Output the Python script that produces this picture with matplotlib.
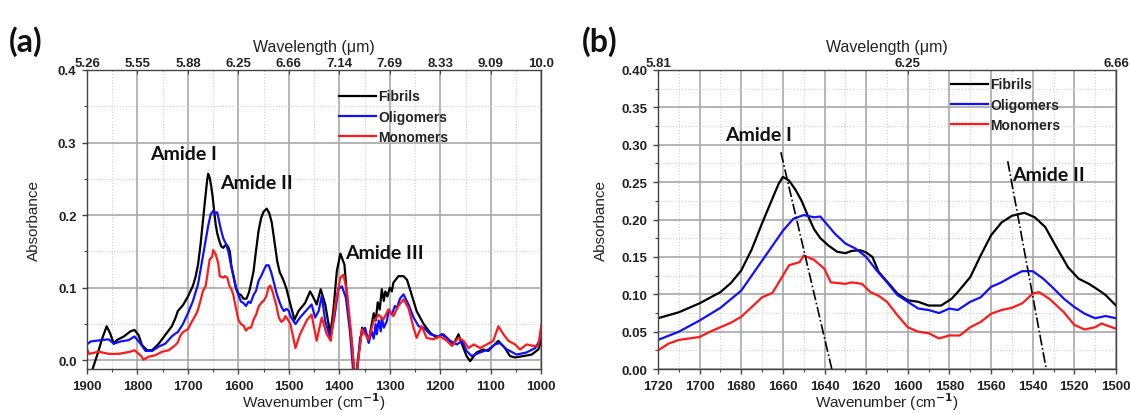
import numpy as np
import matplotlib
matplotlib.use("Agg")
import matplotlib.pyplot as plt
from matplotlib.ticker import MultipleLocator, FormatStrFormatter

plt.rcParams['font.family'] = ['Liberation Sans', 'DejaVu Sans']
plt.rcParams['font.weight'] = 'bold'

# ---- data ----
# panel (b) region, 1720-1500 cm-1 (also used inside panel (a))
wn_fib_b = [1720, 1710, 1700, 1690, 1685, 1680, 1675, 1670, 1667, 1664, 1662, 1660, 1657, 1654,
            1651, 1648, 1645, 1642, 1638, 1634, 1630, 1627, 1623, 1620, 1617, 1614, 1609, 1605,
            1600, 1595, 1590, 1584, 1579, 1576, 1570, 1565, 1560, 1555, 1550, 1544, 1539, 1534,
            1529, 1523, 1518, 1513, 1508, 1505, 1500]
abs_fib_b = [0.068, 0.076, 0.088, 0.103, 0.115, 0.132, 0.160, 0.195, 0.215, 0.235, 0.248, 0.257,
             0.252, 0.240, 0.225, 0.205, 0.187, 0.175, 0.165, 0.157, 0.155, 0.158, 0.159, 0.156,
             0.150, 0.130, 0.114, 0.101, 0.092, 0.090, 0.085, 0.085, 0.094, 0.103, 0.123, 0.152,
             0.179, 0.196, 0.205, 0.209, 0.203, 0.190, 0.165, 0.136, 0.121, 0.114, 0.105, 0.099,
             0.085]

wn_oli_b = [1720, 1710, 1700, 1690, 1680, 1670, 1660, 1655, 1650, 1645, 1642, 1635, 1630, 1625,
            1620, 1615, 1610, 1605, 1600, 1595, 1590, 1585, 1580, 1576, 1570, 1565, 1560, 1555,
            1550, 1545, 1540, 1535, 1530, 1525, 1520, 1515, 1510, 1505, 1500]
abs_oli_b = [0.039, 0.050, 0.065, 0.082, 0.105, 0.145, 0.185, 0.201, 0.206, 0.203, 0.204, 0.181,
             0.168, 0.161, 0.150, 0.132, 0.116, 0.099, 0.090, 0.081, 0.079, 0.075, 0.081, 0.079,
             0.090, 0.096, 0.110, 0.116, 0.124, 0.131, 0.131, 0.121, 0.108, 0.094, 0.083, 0.074,
             0.068, 0.071, 0.068]

wn_mon_b = [1720, 1715, 1710, 1705, 1700, 1695, 1690, 1685, 1680, 1675, 1670, 1665, 1660, 1657,
            1652, 1650, 1645, 1640, 1637, 1630, 1627, 1622, 1618, 1614, 1610, 1605, 1600, 1595,
            1590, 1585, 1580, 1575, 1570, 1565, 1560, 1555, 1550, 1545, 1540, 1537, 1532, 1525,
            1520, 1515, 1510, 1507, 1500]
abs_mon_b = [0.025, 0.034, 0.039, 0.041, 0.043, 0.050, 0.056, 0.062, 0.070, 0.083, 0.096, 0.102,
             0.125, 0.139, 0.143, 0.152, 0.146, 0.134, 0.116, 0.114, 0.116, 0.114, 0.103, 0.098,
             0.090, 0.072, 0.056, 0.050, 0.048, 0.041, 0.045, 0.045, 0.056, 0.063, 0.074, 0.079,
             0.082, 0.088, 0.101, 0.103, 0.094, 0.076, 0.059, 0.053, 0.056, 0.061, 0.054]

# panel (a) outer regions: 1900-1725 and 1497-1000 cm-1
wn_fib_hi = [1900, 1890, 1880, 1870, 1861, 1854, 1847, 1841, 1827, 1814, 1806, 1798, 1791, 1781,
             1771, 1758, 1745, 1732, 1725]
abs_fib_hi = [-0.050, -0.014, 0.007, 0.030, 0.047, 0.037, 0.023, 0.028, 0.033, 0.040, 0.042,
              0.035, 0.021, 0.014, 0.014, 0.023, 0.035, 0.047, 0.058]
wn_fib_lo = [1497, 1489, 1481, 1468, 1458, 1451, 1445, 1437, 1428, 1418, 1412, 1405, 1398, 1390,
             1382, 1375, 1369, 1362, 1355, 1349, 1342, 1336, 1332, 1328, 1324, 1320, 1316, 1312,
             1309, 1305, 1300, 1296, 1293, 1283, 1273, 1266, 1257, 1247, 1233, 1220, 1207, 1197,
             1187, 1174, 1164, 1157, 1148, 1141, 1128, 1115, 1105, 1095, 1085, 1072, 1062, 1052,
             1036, 1019, 1006, 1000]
abs_fib_lo = [0.077, 0.056, 0.068, 0.079, 0.095, 0.086, 0.077, 0.098, 0.077, 0.036, 0.068, 0.123,
              0.147, 0.132, 0.063, 0.022, -0.030, 0.008, 0.045, 0.040, 0.027, 0.050, 0.065, 0.055,
              0.080, 0.070, 0.098, 0.082, 0.095, 0.088, 0.100, 0.095, 0.107, 0.116, 0.116, 0.111,
              0.091, 0.068, 0.050, 0.038, 0.031, 0.036, 0.031, 0.022, 0.036, 0.022, 0.006, -0.001,
              0.011, 0.015, 0.013, 0.020, 0.027, 0.017, 0.006, 0.004, 0.006, 0.008, 0.015, 0.027]

wn_oli_hi = [1900, 1893, 1883, 1870, 1857, 1847, 1834, 1817, 1806, 1794, 1784, 1771, 1758, 1745,
             1732, 1725]
abs_oli_hi = [0.022, 0.026, 0.027, 0.028, 0.029, 0.023, 0.026, 0.028, 0.033, 0.023, 0.013, 0.013,
              0.019, 0.023, 0.033, 0.037]
wn_oli_lo = [1497, 1487, 1478, 1464, 1455, 1448, 1441, 1435, 1428, 1418, 1410, 1402, 1395, 1387,
             1379, 1371, 1365, 1359, 1349, 1342, 1336, 1332, 1328, 1326, 1322, 1318, 1316, 1312,
             1306, 1302, 1296, 1290, 1286, 1280, 1273, 1263, 1253, 1243, 1233, 1220, 1204, 1194,
             1181, 1167, 1157, 1148, 1138, 1121, 1105, 1092, 1082, 1068, 1062, 1049, 1029, 1012,
             1000]
abs_oli_lo = [0.061, 0.050, 0.059, 0.070, 0.077, 0.059, 0.068, 0.089, 0.054, 0.031, 0.059, 0.098,
              0.102, 0.086, 0.040, -0.030, -0.020, 0.031, 0.045, 0.024, 0.040, 0.030, 0.050, 0.036,
              0.055, 0.040, 0.059, 0.045, 0.054, 0.070, 0.063, 0.075, 0.072, 0.085, 0.091, 0.077,
              0.059, 0.047, 0.045, 0.036, 0.033, 0.036, 0.027, 0.022, 0.027, 0.013, 0.006, 0.011,
              0.015, 0.022, 0.024, 0.015, 0.013, 0.008, 0.011, 0.017, 0.031]

wn_mon_hi = [1900, 1896, 1877, 1857, 1837, 1814, 1806, 1794, 1788, 1778, 1765, 1751, 1738, 1725]
abs_mon_hi = [0.016, 0.009, 0.012, 0.009, 0.009, 0.012, 0.014, 0.007, 0.001, 0.005, 0.007, 0.012,
              0.014, 0.021]
wn_mon_lo = [1497, 1487, 1478, 1464, 1455, 1445, 1435, 1425, 1417, 1408, 1398, 1392, 1385, 1377,
             1369, 1362, 1355, 1349, 1342, 1332, 1322, 1313, 1303, 1293, 1283, 1273, 1263, 1253,
             1247, 1237, 1227, 1214, 1200, 1187, 1177, 1164, 1154, 1144, 1134, 1121, 1108, 1095,
             1085, 1075, 1065, 1052, 1042, 1029, 1016, 1006, 1000]
abs_mon_lo = [0.050, 0.017, 0.036, 0.056, 0.063, 0.027, 0.059, 0.036, 0.027, 0.077, 0.114, 0.118,
              0.095, 0.040, -0.030, 0.004, 0.043, 0.036, 0.029, 0.054, 0.063, 0.056, 0.070, 0.061,
              0.075, 0.084, 0.072, 0.045, 0.031, 0.047, 0.031, 0.029, 0.033, 0.027, 0.020, 0.031,
              0.027, 0.017, 0.022, 0.017, 0.022, 0.027, 0.047, 0.036, 0.027, 0.022, 0.015, 0.022,
              0.020, 0.020, 0.048]

series_names = ['Fibrils', 'Oligomers', 'Monomers']
series_colors = ['black', '#1010ff', '#ff1a1a']

# top axis (wavelength) tick labels
top_ticks_a = [1900, 1800, 1700, 1600, 1500, 1400, 1300, 1200, 1100, 1000]
top_labels_a = ['5.26', '5.55', '5.88', '6.25', '6.66', '7.14', '7.69', '8.33', '9.09', '10.0']
top_ticks_b = [1720, 1600, 1500]
top_labels_b = ['5.81', '6.25', '6.66']

# peak shift guide lines in (b): (wn, abs) end points
amide1_line = ([1661, 1636.5], [0.29, 0.0])
amide2_line = ([1552, 1533.5], [0.278, 0.0])

fig = plt.figure(figsize=(11.3, 4.14), dpi=100)
axA = fig.add_axes([0.077, 0.106, 0.402, 0.7226])
axB = fig.add_axes([0.5823, 0.106, 0.4053, 0.7226])

tick_col = '#222222'
spine_col = '#444444'


def style_axis(ax, ylabpad):
    ax.grid(which='major', color='#a8a8a8', lw=1.2, ls='-')
    ax.grid(which='minor', color='#cfcfcf', lw=0.8, ls=':')
    ax.set_axisbelow(True)
    for s in ax.spines.values():
        s.set_color(spine_col)
        s.set_linewidth(1.0)
    ax.tick_params(which='major', direction='out', length=3.5, width=1, color=spine_col,
                   labelsize=9.5, labelcolor=tick_col, pad=4)
    ax.tick_params(which='minor', direction='out', length=2.2, width=0.8, color=spine_col)
    ax.set_xlabel('Wavenumber (cm$^{\\mathbf{-1}}$)', fontsize=11, color=tick_col, labelpad=-1)
    ax.set_ylabel('Absorbance', fontsize=11, color=tick_col, labelpad=ylabpad)


# ---- panel (a) ----
full_a = [
    (wn_fib_hi + wn_fib_b + wn_fib_lo, abs_fib_hi + abs_fib_b + abs_fib_lo),
    (wn_oli_hi + wn_oli_b + wn_oli_lo, abs_oli_hi + abs_oli_b + abs_oli_lo),
    (wn_mon_hi + wn_mon_b + wn_mon_lo, abs_mon_hi + abs_mon_b + abs_mon_lo),
]
for (x, y), name, c in zip(full_a, series_names, series_colors):
    axA.plot(x, y, color=c, lw=1.6, label=name)
axA.set_xlim(1900, 1000)
axA.set_ylim(-0.012, 0.4)
axA.xaxis.set_major_locator(MultipleLocator(100))
axA.xaxis.set_minor_locator(MultipleLocator(50))
axA.yaxis.set_major_locator(MultipleLocator(0.1))
axA.yaxis.set_minor_locator(MultipleLocator(0.05))
axA.yaxis.set_major_formatter(FormatStrFormatter('%.1f'))
style_axis(axA, 12)
axA.legend(loc='upper left', bbox_to_anchor=(0.554, 0.935), frameon=False, fontsize=10,
           handlelength=2.7, handletextpad=0.15, borderaxespad=0, borderpad=0,
           labelspacing=0.45, labelcolor=tick_col)

lab_font = dict(family=['Lato', 'DejaVu Sans'], weight='bold', fontsize=14, color='#111111')
axA.text(1775, 0.285, 'Amide I', va='center', **lab_font)
axA.text(1636, 0.245, 'Amide II', va='center', **lab_font)
axA.text(1388, 0.149, 'Amide III', va='center', **lab_font)

topA = axA.twiny()
topA.set_xlim(axA.get_xlim())
topA.set_xticks(top_ticks_a)
topA.set_xticklabels(top_labels_a)
topA.tick_params(direction='in', length=3, labelsize=9.5, labelcolor=tick_col, color=spine_col, pad=1)
topA.set_xlabel('Wavelength (\u03bcm)', fontsize=11.5, color=tick_col, labelpad=4)
for s in topA.spines.values():
    s.set_visible(False)

# ---- panel (b) ----
for x, y, name, c in zip([wn_fib_b, wn_oli_b, wn_mon_b], [abs_fib_b, abs_oli_b, abs_mon_b],
                         series_names, series_colors):
    axB.plot(x, y, color=c, lw=1.6, label=name)
axB.plot(amide1_line[0], amide1_line[1], color='black', lw=1.2, ls='-.')
axB.plot(amide2_line[0], amide2_line[1], color='black', lw=1.2, ls='-.')
axB.set_xlim(1720, 1500)
axB.set_ylim(0, 0.4)
axB.xaxis.set_major_locator(MultipleLocator(20))
axB.xaxis.set_minor_locator(MultipleLocator(10))
axB.yaxis.set_major_locator(MultipleLocator(0.05))
axB.yaxis.set_minor_locator(MultipleLocator(0.025))
axB.yaxis.set_major_formatter(FormatStrFormatter('%.2f'))
style_axis(axB, 10)
axB.legend(loc='upper left', bbox_to_anchor=(0.639, 0.975), frameon=False, fontsize=10,
           handlelength=2.7, handletextpad=0.15, borderaxespad=0, borderpad=0,
           labelspacing=0.45, labelcolor=tick_col)
axB.text(1688, 0.302, 'Amide I', va='bottom', **lab_font)
axB.text(1550, 0.26, 'Amide II', va='center', **lab_font)

topB = axB.twiny()
topB.set_xlim(axB.get_xlim())
topB.set_xticks(top_ticks_b)
topB.set_xticklabels(top_labels_b)
topB.tick_params(direction='in', length=3, labelsize=9.5, labelcolor=tick_col, color=spine_col, pad=1)
topB.set_xlabel('Wavelength (\u03bcm)', fontsize=11.5, color=tick_col, labelpad=4)
for s in topB.spines.values():
    s.set_visible(False)

letter_font = dict(family=['Lato', 'DejaVu Sans'], weight='bold', fontsize=23, color='#111111')
fig.text(0.008, 0.90, '(a)', va='center', **letter_font)
fig.text(0.515, 0.90, '(b)', va='center', **letter_font)

fig.savefig('out.png', dpi=100)
